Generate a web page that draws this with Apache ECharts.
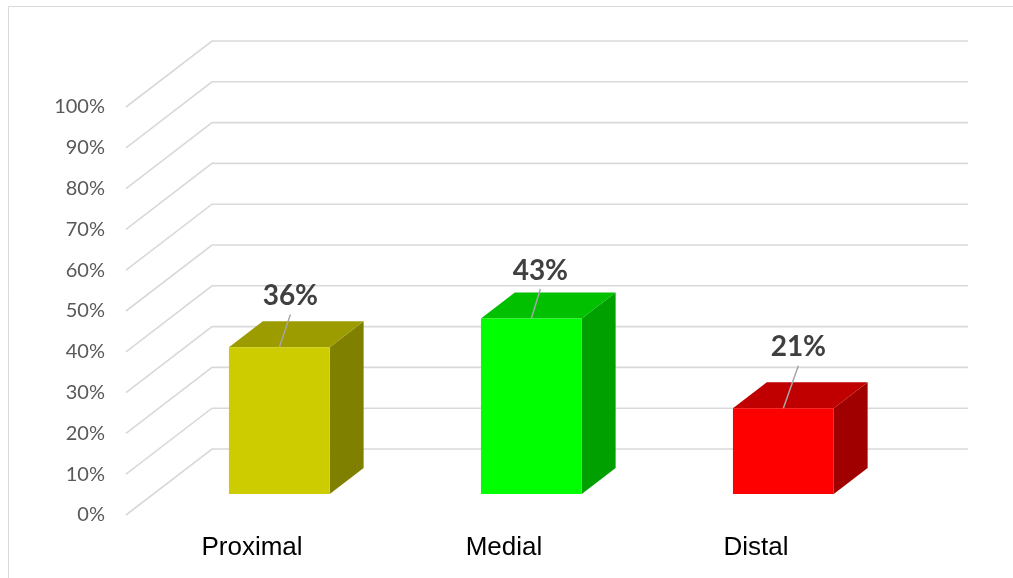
<!DOCTYPE html>
<html>
<head>
<meta charset="utf-8">
<script src="https://cdn.jsdelivr.net/npm/echarts@6/dist/echarts.min.js"></script>
<style>
  html, body { margin: 0; padding: 0; background: #fff; }
  #chart { width: 1013px; height: 578px; }
</style>
</head>
<body>
<div id="chart"></div>
<script>
// Share of cases by segment
const categories = ['Proximal', 'Medial', 'Distal'];
const shares = [36, 43, 21];
const yTicks = [0, 10, 20, 30, 40, 50, 60, 70, 80, 90, 100];

// Face colours for each bar: front, top, side
const frontColors = ['#cccc00', '#00ff00', '#ff0000'];
const topColors = ['#9c9c00', '#00c000', '#c00000'];
const sideColors = ['#808000', '#00a000', '#a00000'];

// Oblique projection of the floor depth (back wall sits up and to the right)
const DEPTH_DX = 86;
const DEPTH_DY = -66;
const BAR_FRONT = 0.318;   // bar front, as a fraction of floor depth
const BAR_BACK = 0.712;    // bar back, as a fraction of floor depth
const GAP_RATIO = 1.5;     // gap width relative to bar width

// Value label placement relative to each bar's top-front centre
const labelOffsets = [[11, -51], [9, -48], [15, -61]];
const LEADER_GAP = 18.5;

const chart = echarts.init(document.getElementById('chart'), null, { renderer: 'canvas' });

function renderGrid(params, api) {
  const v = api.value(1);
  const band = api.size([1, 0])[0];
  const first = api.coord([0, v]);
  const last = api.coord([categories.length - 1, v]);
  const x0 = first[0] - band / 2;
  const y0 = first[1];
  const xb = x0 + DEPTH_DX;
  const yb = y0 + DEPTH_DY;
  const xr = last[0] + band / 2 + DEPTH_DX;
  return {
    type: 'polyline',
    shape: { points: [[x0, y0], [xb, yb], [xr, yb]] },
    style: { stroke: '#d9d9d9', lineWidth: 1.6, fill: null },
    silent: true
  };
}

function renderBar(params, api) {
  const i = api.value(0);
  const v = api.value(1);
  const band = api.size([1, 0])[0];
  const w = band / (1 + GAP_RATIO);
  const base = api.coord([i, 0]);
  const top = api.coord([i, v]);
  const fx = base[0] - w / 2 + DEPTH_DX * BAR_FRONT;
  const by = base[1] + DEPTH_DY * BAR_FRONT;
  const ty = top[1] + DEPTH_DY * BAR_FRONT;
  const ddx = DEPTH_DX * (BAR_BACK - BAR_FRONT);
  const ddy = DEPTH_DY * (BAR_BACK - BAR_FRONT);
  const cx = fx + w / 2;
  const off = labelOffsets[i];
  return {
    type: 'group',
    children: [
      {
        type: 'polygon',
        shape: { points: [[fx + w, ty], [fx + w + ddx, ty + ddy], [fx + w + ddx, by + ddy], [fx + w, by]] },
        style: { fill: sideColors[i] }
      },
      {
        type: 'polygon',
        shape: { points: [[fx, ty], [fx + w, ty], [fx + w + ddx, ty + ddy], [fx + ddx, ty + ddy]] },
        style: { fill: topColors[i] }
      },
      {
        type: 'rect',
        shape: { x: fx, y: ty, width: w, height: by - ty },
        style: { fill: frontColors[i] }
      },
      {
        type: 'line',
        shape: { x1: cx, y1: ty, x2: cx + off[0], y2: ty + off[1] + LEADER_GAP },
        style: { stroke: '#a6a6a6', lineWidth: 1.5 }
      },
      {
        type: 'text',
        x: cx + off[0],
        y: ty + off[1],
        style: {
          text: v + '%',
          fill: '#404040',
          font: 'bold 28px Lato, "Open Sans", sans-serif',
          align: 'center',
          verticalAlign: 'middle'
        }
      }
    ]
  };
}

chart.setOption({
  animation: false,
  backgroundColor: '#ffffff',
  graphic: [{
    type: 'rect',
    shape: { x: 8.5, y: 6.5, width: 1010, height: 580 },
    style: { fill: null, stroke: '#d9d9d9', lineWidth: 1 },
    z: -10,
    silent: true
  }],
  grid: {
    left: 126, right: 131, top: 107, bottom: 63,
    containLabel: false,
    outerBoundsMode: 'none'
  },
  xAxis: {
    type: 'category',
    data: categories,
    axisLine: { show: false },
    axisTick: { show: false },
    splitLine: { show: false },
    axisLabel: {
      color: '#000000',
      fontFamily: '"Liberation Sans", Arial, sans-serif',
      fontSize: 26,
      margin: 20
    }
  },
  yAxis: {
    type: 'value',
    min: 0, max: 100, interval: 10,
    axisLine: { show: false },
    axisTick: { show: false },
    splitLine: { show: false },
    axisLabel: {
      formatter: '{value}%',
      color: '#595959',
      fontFamily: 'Lato, "Open Sans", sans-serif',
      fontSize: 20,
      margin: 21,
      padding: [5, 0, 0, 0]
    }
  },
  series: [
    {
      type: 'custom',
      name: 'gridlines',
      renderItem: renderGrid,
      data: yTicks.map(t => [0, t]),
      encode: { x: 0, y: 1 },
      clip: false,
      silent: true,
      z: 1
    },
    {
      type: 'custom',
      name: 'Share',
      renderItem: renderBar,
      data: shares.map((s, i) => [i, s]),
      encode: { x: 0, y: 1 },
      clip: false,
      z: 2
    }
  ]
});
</script>
</body>
</html>
